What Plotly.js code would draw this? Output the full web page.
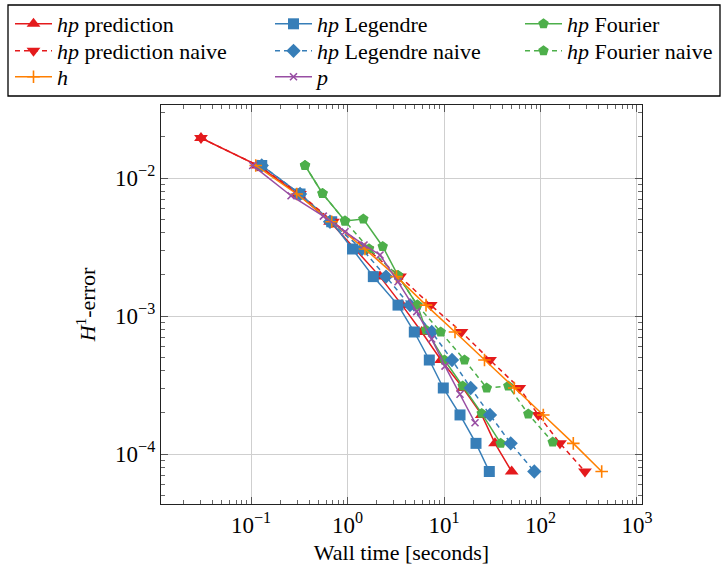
<!DOCTYPE html>
<html>
<head>
<meta charset="utf-8">
<script src="https://cdn.plot.ly/plotly-3.0.1.min.js"></script>
<style>html,body{margin:0;padding:0;background:#fff;}#chart{width:727px;height:565px;}</style>
</head>
<body>
<div id="chart"></div>
<script>
// ---- data (wall time [s], H1-error) ----
var predX = [0.0303, 0.118, 0.307, 0.659, 1.196, 2.172, 3.671, 5.873, 9.309, 15.74, 24.59, 33.77, 50.29];
var predY = [0.0195, 0.01232, 0.00766, 0.00482, 0.00306, 0.00193, 0.00120, 0.000766, 0.000480, 0.000301, 0.000192, 0.0001195, 0.0000747];

var predNaiveX = [0.0303, 0.118, 0.322, 0.707, 1.593, 3.50, 7.281, 15.18, 29.98, 60.3, 94.9, 159.2, 289.1];
var predNaiveY = [0.0195, 0.01232, 0.00766, 0.00482, 0.00306, 0.00193, 0.00120, 0.000766, 0.000480, 0.000301, 0.000192, 0.0001195, 0.0000747];

var hX = [0.1119, 0.2976, 0.6859, 1.518, 3.22, 6.51, 13.0, 26.28, 53.52, 106.9, 218.8, 430.8];
var hY = [0.01232, 0.00766, 0.00482, 0.00306, 0.00193, 0.00120, 0.000766, 0.000480, 0.000301, 0.000192, 0.0001195, 0.0000747];

var legX = [0.1291, 0.3221, 0.6859, 1.127, 1.851, 3.337, 4.922, 7.042, 9.833, 14.65, 21.46, 29.48];
var legY = [0.01232, 0.00766, 0.00482, 0.00306, 0.00193, 0.00120, 0.000766, 0.000480, 0.000301, 0.000192, 0.0001195, 0.0000747];

var legNaiveX = [0.1291, 0.3221, 0.6587, 1.413, 2.506, 4.443, 7.458, 12.11, 18.91, 29.98, 49.11, 86.27];
var legNaiveY = [0.01232, 0.00766, 0.00482, 0.00306, 0.00193, 0.00120, 0.000766, 0.000480, 0.000301, 0.000192, 0.0001195, 0.0000747];

var pX = [0.1041, 0.2598, 0.5613, 0.9421, 1.483, 2.172, 3.337, 5.213, 7.458, 10.24, 14.65, 20.96];
var pY = [0.01232, 0.00744, 0.00530, 0.00408, 0.00327, 0.00277, 0.00177, 0.001075, 0.000681, 0.000434, 0.000271, 0.0001686];

var fourX = [0.3627, 0.5507, 0.9421, 1.458, 2.316, 3.337, 5.289, 6.51, 10.12, 15.62, 24.59, 38.69];
var fourY = [0.01232, 0.00772, 0.00488, 0.00505, 0.00319, 0.001965, 0.00120, 0.000792, 0.000480, 0.000311, 0.000197, 0.0001195];

var fourNaiveX = [0.3627, 0.5507, 0.9421, 1.671, 3.337, 5.289, 9.243, 16.31, 27.71, 46.38, 74.74, 133.8];
var fourNaiveY = [0.01232, 0.00772, 0.00488, 0.00307, 0.001965, 0.00120, 0.000766, 0.000480, 0.000301, 0.000311, 0.000195, 0.000122];

var xTickVals = [0.1, 1, 10, 100, 1000];
var xTickText = ['10<sup>−1</sup>', '10<sup>0</sup>', '10<sup>1</sup>', '10<sup>2</sup>', '10<sup>3</sup>'];
var yTickVals = [0.0001, 0.001, 0.01];
var yTickText = ['10<sup>−4</sup>', '10<sup>−3</sup>', '10<sup>−2</sup>'];

// ---- styling ----
var RED = '#e41a1c', BLUE = '#377eb8', GREEN = '#4daf4a', ORANGE = '#ff7f00', PURPLE = '#984ea3';
var FONT = 'Liberation Serif';
var DASH = '5px,4px';

function tr(name, x, y, color, symbol, size, dash, legend) {
  var thin = symbol.indexOf('thin') >= 0;
  return {
    type: 'scatter', mode: 'lines+markers', name: name, x: x, y: y, legend: legend,
    line: {color: color, width: 1.5, dash: dash || 'solid'},
    marker: {color: color, symbol: symbol, size: size, line: {color: color, width: thin ? 1.6 : 0}},
    hoverinfo: 'x+y+name'
  };
}

var data = [
  tr('<i>hp</i> prediction', predX, predY, RED, 'triangle-up', 12, null, 'legend'),
  tr('<i>hp</i> Legendre', legX, legY, BLUE, 'square', 11, null, 'legend2'),
  tr('<i>hp</i> Fourier', fourX, fourY, GREEN, 'pentagon', 11, null, 'legend3'),
  tr('<i>hp</i> prediction naive', predNaiveX, predNaiveY, RED, 'triangle-down', 12, DASH, 'legend4'),
  tr('<i>hp</i> Legendre naive', legNaiveX, legNaiveY, BLUE, 'diamond', 11, DASH, 'legend5'),
  tr('<i>hp</i> Fourier naive', fourNaiveX, fourNaiveY, GREEN, 'pentagon', 11, DASH, 'legend6'),
  tr('<i>h</i>', hX, hY, ORANGE, 'cross-thin-open', 9, null, 'legend7'),
  tr('<i>p</i>', pX, pY, PURPLE, 'x-thin-open', 7, null, 'legend8')
];

// minor tick positions (axis styling)
function minors(e0, e1) {
  var v = [];
  for (var e = e0; e <= e1; e++) for (var k = 2; k <= 9; k++) v.push(k * Math.pow(10, e));
  return v;
}

var L = 161, R = 642, T = 105, B = 504, W = 727, H = 565;
function px2paperX(p) { return (p - L) / (R - L); }
function px2paperY(p) { return (B - p) / (B - T); }

function legendAt(pxX, pxY) {
  return {
    x: px2paperX(pxX), xanchor: 'left', y: px2paperY(pxY), yanchor: 'top',
    orientation: 'v', bgcolor: 'rgba(0,0,0,0)', borderwidth: 0,
    font: {family: FONT, size: 22, color: '#000'}, itemwidth: 37, tracegroupgap: 0
  };
}

var axisCommon = {
  type: 'log', showline: true, linecolor: '#222', linewidth: 1.2, mirror: 'allticks',
  ticks: 'inside', ticklen: 7, tickwidth: 1, tickcolor: '#555',
  showgrid: true, gridcolor: '#cfcfcf', gridwidth: 1, zeroline: false,
  tickmode: 'array', tickfont: {family: FONT, size: 23, color: '#000'},
  automargin: false
};

var col = [10, 270, 520], row = [3, 30, 56];

var layout = {
  width: W, height: H,
  margin: {l: L, r: W - R, t: T, b: H - B, autoexpand: false},
  paper_bgcolor: '#fff', plot_bgcolor: '#fff',
  font: {family: FONT, size: 22, color: '#000'},
  showlegend: true,
  legend: legendAt(col[0], row[0]),
  legend2: legendAt(col[1], row[0]),
  legend3: legendAt(col[2], row[0]),
  legend4: legendAt(col[0], row[1]),
  legend5: legendAt(col[1], row[1]),
  legend6: legendAt(col[2], row[1]),
  legend7: legendAt(col[0], row[2]),
  legend8: legendAt(col[1], row[2]),
  xaxis: Object.assign({}, axisCommon, {
    range: [-1.933, 3.052], tickvals: xTickVals, ticktext: xTickText,
    minor: {tickmode: 'array', tickvals: minors(-2, 2), ticks: 'inside', ticklen: 4, tickcolor: '#666', showgrid: false},
    title: {text: 'Wall time [seconds]', font: {family: FONT, size: 22, color: '#000'}, standoff: 8}
  }),
  yaxis: Object.assign({}, axisCommon, {
    range: [-4.362, -1.471], tickvals: yTickVals, ticktext: yTickText,
    minor: {tickmode: 'array', tickvals: minors(-5, -2), ticks: 'inside', ticklen: 4, tickcolor: '#666', showgrid: false},
    title: {text: '<i>H</i><sup>1</sup>-error', font: {family: FONT, size: 22, color: '#000'}, standoff: 13}
  }),
  shapes: [{
    type: 'rect', xref: 'paper', yref: 'paper',
    x0: px2paperX(8), x1: px2paperX(720), y0: px2paperY(96), y1: px2paperY(5),
    line: {color: '#000', width: 1.3}, fillcolor: 'rgba(0,0,0,0)', layer: 'above'
  }]
};

Plotly.newPlot('chart', data, layout, {displayModeBar: false, staticPlot: true});
</script>
</body>
</html>
